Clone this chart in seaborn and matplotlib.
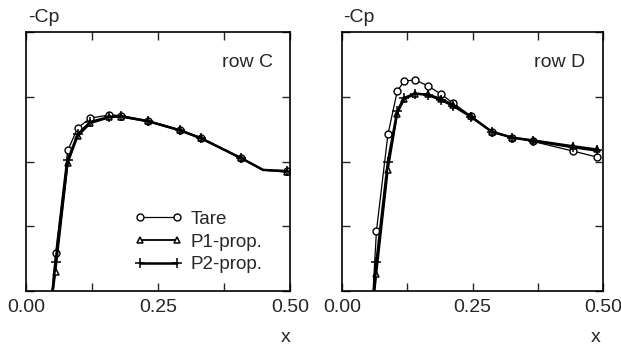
import numpy as np
import pandas as pd
import matplotlib
matplotlib.use("Agg")
import matplotlib.pyplot as plt
from matplotlib.ticker import MultipleLocator
import seaborn as sns

# ---- data ----
x_C = [0.045, 0.056, 0.079, 0.098, 0.122, 0.158, 0.179, 0.232, 0.292, 0.331, 0.408, 0.449, 0.494]
tare_C = [-0.4, 0.58, 2.17, 2.52, 2.67, 2.72, 2.71, 2.63, 2.49, 2.37, 2.05, 1.87, 1.86]
p1_C = [-0.4, 0.30, 1.97, 2.39, 2.59, 2.68, 2.69, 2.62, 2.48, 2.36, 2.05, 1.87, 1.84]
p2_C = [-0.4, 0.45, 2.02, 2.42, 2.61, 2.69, 2.70, 2.62, 2.48, 2.36, 2.05, 1.87, 1.85]

x_D = [0.056, 0.066, 0.088, 0.106, 0.119, 0.140, 0.164, 0.190, 0.213, 0.247, 0.287, 0.326, 0.366, 0.443, 0.488]
tare_D = [-0.5, 0.93, 2.42, 3.09, 3.24, 3.26, 3.17, 3.04, 2.90, 2.70, 2.45, 2.37, 2.31, 2.16, 2.07]
p1_D = [-0.5, 0.27, 1.87, 2.74, 2.96, 3.04, 3.04, 2.97, 2.88, 2.70, 2.46, 2.37, 2.33, 2.24, 2.19]
p2_D = [-0.5, 0.45, 2.00, 2.78, 2.98, 3.05, 3.03, 2.95, 2.86, 2.69, 2.46, 2.37, 2.32, 2.22, 2.17]

series_names = ["Tare", "P1-prop.", "P2-prop."]
panel_labels = ["row C", "row D"]
x_ticklabels = ["0.00", "0.25", "0.50"]

sns.set_style("ticks")
plt.rcParams["font.family"] = ["Liberation Sans", "DejaVu Sans"]

fig = plt.figure(figsize=(6.21, 3.47), dpi=100)
W, H = 621, 347
axL = fig.add_axes([26 / W, (H - 291) / H, 264 / W, 259 / H])
axR = fig.add_axes([342 / W, (H - 291) / H, 261 / W, 259 / H])

styles = [
    dict(marker="o", markersize=5, markerfacecolor="white", markeredgecolor="black", markeredgewidth=1.0, linewidth=0.9),
    dict(marker="^", markersize=5, markerfacecolor="white", markeredgecolor="black", markeredgewidth=1.1, linewidth=1.3),
    dict(marker="+", markersize=6.5, markeredgecolor="black", markeredgewidth=1.1, linewidth=1.8),
]

def draw(ax, xs, ys_list, skip_idx=None):
    for name, ys, st in zip(series_names, ys_list, styles):
        n = len(xs)
        me = [i for i in range(n) if i != skip_idx]
        sns.lineplot(x=xs, y=ys, ax=ax, color="black", label=name, sort=False,
                     markevery=me, clip_on=True, **st)
    ax.set_xlim(0, 0.5)
    ax.set_ylim(0, 4)
    ax.xaxis.set_minor_locator(MultipleLocator(0.125))
    ax.yaxis.set_major_locator(MultipleLocator(1))
    ax.set_xticks([0, 0.25, 0.5])
    ax.set_xticklabels(x_ticklabels)
    ax.set_yticklabels([])
    ax.tick_params(which="both", direction="in", top=True, right=True, bottom=True, left=True,
                   length=6, width=1.0, labelsize=14, pad=6)
    for s in ax.spines.values():
        s.set_linewidth(1.2)
        s.set_color("black")
    ax.set_xlabel("")
    ax.set_ylabel("")

draw(axL, x_C, [tare_C, p1_C, p2_C], skip_idx=11)
draw(axR, x_D, [tare_D, p1_D, p2_D])

leg = axL.legend(loc="upper left", bbox_to_anchor=(0.41, 0.31), frameon=False, numpoints=2,
                 handlelength=2.6, handletextpad=0.4, labelspacing=0.3, borderpad=0,
                 borderaxespad=0, fontsize=13.5)
if axR.get_legend():
    axR.get_legend().remove()

axL.text(0.936, 0.884, panel_labels[0], transform=axL.transAxes, ha="right", va="center", fontsize=14)
axR.text(0.931, 0.884, panel_labels[1], transform=axR.transAxes, ha="right", va="center", fontsize=14)

fig.text(28 / W, 1 - 17 / H, "-Cp", ha="left", va="center", fontsize=14)
fig.text(343 / W, 1 - 17 / H, "-Cp", ha="left", va="center", fontsize=14)
fig.text(286 / W, 1 - 337 / H, "x", ha="center", va="center", fontsize=14)
fig.text(596 / W, 1 - 337 / H, "x", ha="center", va="center", fontsize=14)

fig.savefig("out.png", dpi=100)
